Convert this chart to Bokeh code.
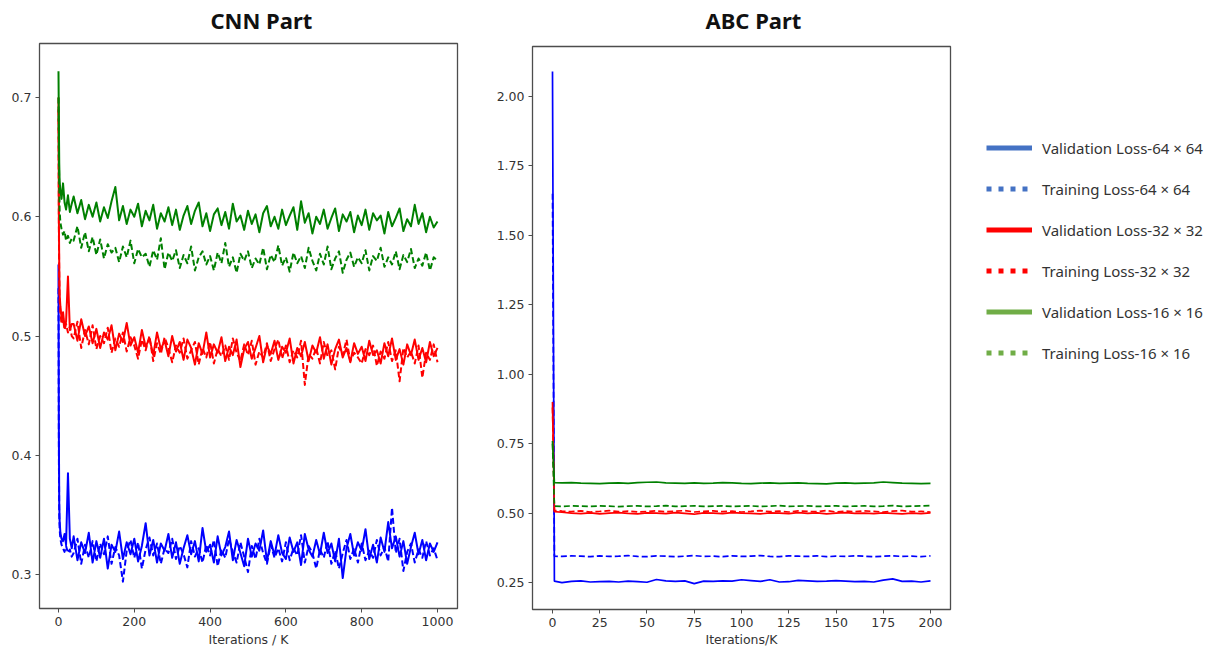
from bokeh.plotting import figure
from bokeh.layouts import row, column
from bokeh.models import Range1d, FixedTicker, NumeralTickFormatter, Legend, LegendItem, Label
from bokeh.embed import file_html
from bokeh.resources import INLINE

# ---------------- data ----------------
cnn_iters = [0, 1, 2, 3, 5, 8, 12, 16, 20, 25, 30, 35] + list(range(40, 1001, 10))

cnn_val16 = [0.722, 0.680, 0.645, 0.630, 0.622, 0.615, 0.628, 0.612, 0.606, 0.618, 0.604, 0.611,
             0.617, 0.603, 0.614, 0.598, 0.610, 0.600,
             0.612, 0.596, 0.608, 0.599, 0.613, 0.625, 0.597, 0.609, 0.594, 0.606,
             0.600, 0.611, 0.592, 0.605, 0.597, 0.610, 0.590, 0.603, 0.596, 0.608,
             0.593, 0.606, 0.589, 0.601, 0.609, 0.594, 0.605, 0.612, 0.592, 0.603,
             0.588, 0.602, 0.607, 0.593, 0.604, 0.590, 0.611, 0.596, 0.601, 0.589,
             0.605, 0.594, 0.602, 0.587, 0.603, 0.609, 0.592, 0.600, 0.590, 0.606,
             0.593, 0.601, 0.608, 0.589, 0.613, 0.595, 0.603, 0.586, 0.600, 0.594,
             0.606, 0.590, 0.599, 0.607, 0.588, 0.602, 0.596, 0.604, 0.587, 0.601,
             0.593, 0.606, 0.589, 0.603, 0.597, 0.601, 0.586, 0.604, 0.592, 0.599,
             0.607, 0.588, 0.598, 0.592, 0.610, 0.594, 0.603, 0.587, 0.600, 0.591,
             0.596]

cnn_train16 = [0.700, 0.655, 0.625, 0.605, 0.595, 0.590, 0.585, 0.588, 0.580, 0.584, 0.578, 0.582,
               0.580, 0.592, 0.574, 0.587, 0.571, 0.583,
               0.568, 0.581, 0.565, 0.577, 0.570, 0.574, 0.562, 0.575, 0.566, 0.580,
               0.561, 0.573, 0.566, 0.569, 0.558, 0.572, 0.564, 0.582, 0.556, 0.570,
               0.563, 0.572, 0.557, 0.568, 0.561, 0.575, 0.555, 0.566, 0.571, 0.560,
               0.567, 0.555, 0.570, 0.561, 0.578, 0.558, 0.566, 0.553, 0.569, 0.563,
               0.571, 0.557, 0.565, 0.560, 0.574, 0.556, 0.568, 0.562, 0.576, 0.559,
               0.566, 0.554, 0.570, 0.561, 0.567, 0.557, 0.574, 0.563, 0.555, 0.569,
               0.560, 0.575, 0.556, 0.565, 0.571, 0.553, 0.564, 0.570, 0.558, 0.566,
               0.561, 0.572, 0.555, 0.567, 0.563, 0.574, 0.558, 0.566, 0.560, 0.571,
               0.556, 0.568, 0.562, 0.573, 0.557, 0.565, 0.559, 0.570, 0.555, 0.566,
               0.563]

cnn_val32 = [0.700, 0.600, 0.560, 0.535, 0.525, 0.515, 0.520, 0.508, 0.512, 0.550, 0.505, 0.510,
             0.510, 0.496, 0.514, 0.500, 0.508, 0.494,
             0.506, 0.490, 0.503, 0.497, 0.509, 0.488, 0.502, 0.495, 0.511, 0.492,
             0.499, 0.486, 0.505, 0.491, 0.498, 0.484, 0.503, 0.489, 0.496, 0.483,
             0.500, 0.487, 0.495, 0.480, 0.497, 0.490, 0.476, 0.494, 0.485, 0.503,
             0.482, 0.493, 0.486, 0.499, 0.479, 0.491, 0.484, 0.497, 0.474, 0.489,
             0.495, 0.481, 0.490, 0.500, 0.478, 0.492, 0.485, 0.496, 0.480, 0.491,
             0.486, 0.498, 0.477, 0.490, 0.483, 0.495, 0.479, 0.492, 0.486, 0.499,
             0.481, 0.493, 0.476, 0.489, 0.497, 0.482, 0.490, 0.478, 0.494, 0.485,
             0.491, 0.479, 0.496, 0.484, 0.488, 0.477, 0.494, 0.483, 0.498, 0.480,
             0.489, 0.476, 0.493, 0.484, 0.497, 0.480, 0.490, 0.478, 0.495, 0.483,
             0.490]

cnn_train32 = [0.690, 0.590, 0.550, 0.530, 0.520, 0.510, 0.515, 0.505, 0.510, 0.503, 0.508, 0.500,
               0.498, 0.512, 0.490, 0.505, 0.493, 0.509,
               0.489, 0.500, 0.494, 0.507, 0.486, 0.498, 0.491, 0.503, 0.487, 0.499,
               0.492, 0.481, 0.497, 0.488, 0.500, 0.479, 0.494, 0.485, 0.499, 0.490,
               0.478, 0.492, 0.486, 0.498, 0.481, 0.488, 0.495, 0.476, 0.490, 0.482,
               0.495, 0.477, 0.489, 0.483, 0.492, 0.480, 0.498, 0.486, 0.479, 0.493,
               0.484, 0.496, 0.476, 0.487, 0.482, 0.494, 0.479, 0.489, 0.497, 0.481,
               0.492, 0.478, 0.488, 0.482, 0.496, 0.459, 0.485, 0.481, 0.490, 0.477,
               0.495, 0.483, 0.488, 0.472, 0.491, 0.484, 0.497, 0.479, 0.486, 0.482,
               0.477, 0.489, 0.484, 0.492, 0.475, 0.487, 0.481, 0.495, 0.479, 0.488,
               0.462, 0.490, 0.482, 0.487, 0.477, 0.492, 0.465, 0.486, 0.480, 0.493,
               0.478]

cnn_val64 = [0.560, 0.420, 0.360, 0.345, 0.335, 0.330, 0.328, 0.334, 0.325, 0.385, 0.330, 0.322,
             0.332, 0.312, 0.327, 0.318, 0.335, 0.310,
             0.328, 0.314, 0.330, 0.305, 0.325, 0.319, 0.336, 0.313, 0.327, 0.317,
             0.330, 0.311, 0.324, 0.343, 0.316, 0.329, 0.310, 0.326, 0.320, 0.334,
             0.314, 0.327, 0.309, 0.322, 0.333, 0.317, 0.328, 0.311, 0.339, 0.319,
             0.325, 0.310, 0.332, 0.316, 0.323, 0.336, 0.312, 0.329, 0.318, 0.307,
             0.330, 0.315, 0.326, 0.320, 0.337, 0.311, 0.328, 0.316, 0.333, 0.318,
             0.313, 0.331, 0.319, 0.327, 0.308, 0.334, 0.321, 0.315, 0.329, 0.317,
             0.335, 0.318, 0.326, 0.311, 0.330, 0.297, 0.322, 0.334, 0.316, 0.327,
             0.320, 0.338, 0.313, 0.325, 0.310, 0.331, 0.319, 0.344, 0.322, 0.332,
             0.315, 0.328, 0.309, 0.323, 0.335, 0.317, 0.329, 0.312, 0.326, 0.319,
             0.327]

cnn_train64 = [0.540, 0.400, 0.350, 0.338, 0.330, 0.325, 0.322, 0.319, 0.324, 0.318, 0.321, 0.315,
               0.318, 0.330, 0.309, 0.325, 0.314, 0.328,
               0.311, 0.326, 0.317, 0.332, 0.309, 0.323, 0.316, 0.294, 0.320, 0.329,
               0.314, 0.327, 0.305, 0.321, 0.331, 0.316, 0.326, 0.309, 0.322, 0.318,
               0.330, 0.313, 0.324, 0.317, 0.306, 0.328, 0.315, 0.322, 0.310, 0.325,
               0.316, 0.329, 0.307, 0.321, 0.314, 0.330, 0.319, 0.310, 0.327, 0.315,
               0.302, 0.324, 0.313, 0.330, 0.318, 0.309, 0.325, 0.314, 0.322, 0.311,
               0.327, 0.312, 0.322, 0.316, 0.333, 0.310, 0.324, 0.318, 0.305, 0.321,
               0.314, 0.328, 0.309, 0.320, 0.305, 0.318, 0.329, 0.313, 0.322, 0.310,
               0.326, 0.312, 0.320, 0.314, 0.329, 0.316, 0.323, 0.311, 0.356, 0.318,
               0.330, 0.303, 0.319, 0.326, 0.310, 0.321, 0.314, 0.328, 0.316, 0.322,
               0.312]

abc_iters = [0, 1] + list(range(5, 201, 5))

abc_val64 = [2.090, 0.255,
             0.250, 0.254, 0.256, 0.252, 0.253, 0.254, 0.252, 0.255, 0.253, 0.251,
             0.261, 0.256, 0.254, 0.256, 0.246, 0.255, 0.254, 0.256, 0.255, 0.260,
             0.257, 0.254, 0.260, 0.252, 0.253, 0.258, 0.256, 0.254, 0.255, 0.257,
             0.255, 0.253, 0.254, 0.252, 0.259, 0.263, 0.254, 0.255, 0.252, 0.256]
abc_train64 = [1.650, 0.345,
               0.344, 0.346, 0.345, 0.343, 0.346, 0.344, 0.345, 0.347, 0.344, 0.343,
               0.346, 0.345, 0.343, 0.345, 0.347, 0.344, 0.345, 0.343, 0.346, 0.344,
               0.345, 0.347, 0.344, 0.343, 0.346, 0.345, 0.344, 0.346, 0.343, 0.345,
               0.344, 0.346, 0.345, 0.343, 0.345, 0.346, 0.344, 0.345, 0.343, 0.346]
abc_val32 = [0.900, 0.505,
             0.503, 0.500, 0.498, 0.501, 0.497, 0.500, 0.502, 0.499, 0.497, 0.501,
             0.500, 0.498, 0.502, 0.499, 0.496, 0.501, 0.500, 0.498, 0.502, 0.500,
             0.499, 0.497, 0.501, 0.500, 0.498, 0.502, 0.499, 0.501, 0.497, 0.500,
             0.502, 0.499, 0.500, 0.498, 0.501, 0.499, 0.497, 0.500, 0.498, 0.501]
abc_train32 = [0.880, 0.510,
               0.507, 0.505, 0.508, 0.504, 0.506, 0.509, 0.505, 0.507, 0.504, 0.506,
               0.508, 0.505, 0.507, 0.509, 0.504, 0.506, 0.508, 0.505, 0.507, 0.504,
               0.506, 0.509, 0.505, 0.507, 0.504, 0.508, 0.506, 0.505, 0.509, 0.504,
               0.507, 0.505, 0.508, 0.506, 0.504, 0.507, 0.509, 0.505, 0.506, 0.504]
abc_val16 = [0.760, 0.610,
             0.609, 0.610, 0.608, 0.607, 0.606, 0.608, 0.609, 0.607, 0.610, 0.611,
             0.612, 0.609, 0.608, 0.607, 0.609, 0.607, 0.608, 0.610, 0.609, 0.607,
             0.606, 0.608, 0.609, 0.607, 0.608, 0.609, 0.607, 0.606, 0.605, 0.608,
             0.609, 0.607, 0.608, 0.609, 0.612, 0.610, 0.608, 0.607, 0.606, 0.607]
abc_train16 = [0.750, 0.525,
               0.524, 0.526, 0.525, 0.524, 0.526, 0.525, 0.523, 0.525, 0.526, 0.524,
               0.525, 0.527, 0.524, 0.525, 0.526, 0.524, 0.525, 0.526, 0.524, 0.525,
               0.526, 0.524, 0.525, 0.527, 0.524, 0.525, 0.526, 0.524, 0.525, 0.526,
               0.524, 0.525, 0.526, 0.524, 0.525, 0.527, 0.524, 0.525, 0.526, 0.527]

cnn_xticks = [0, 200, 400, 600, 800, 1000]
cnn_yticks = [0.3, 0.4, 0.5, 0.6, 0.7]
abc_xticks = [0, 25, 50, 75, 100, 125, 150, 175, 200]
abc_yticks = [0.25, 0.50, 0.75, 1.00, 1.25, 1.50, 1.75, 2.00]

titles = ["CNN Part", "ABC Part"]
xlabels = ["Iterations / K", "Iterations/K"]
legend_labels = ["Validation Loss-64 × 64", "Training Loss-64 × 64",
                 "Validation Loss-32 × 32", "Training Loss-32 × 32",
                 "Validation Loss-16 × 16", "Training Loss-16 × 16"]

# ---------------- styling ----------------
BLUE, RED, GREEN = "#0000ff", "#ff0000", "#008000"
LEG_COLORS = ["#4472c4", "#4472c4", "#ff0000", "#ff0000", "#70ad47", "#70ad47"]
LEG_DASH = ["solid", "5 7", "solid", "5 7", "solid", "5 7"]
FONT = "Noto Sans"
TICK_FONT = "DejaVu Sans"
FRAME = "#4d4d4d"
HDR = 40
H = 649 - HDR


def make_header(width, title, tx):
    h = figure(width=width, height=HDR, output_backend="svg", toolbar_location=None, title=None,
               x_range=Range1d(0, 1), y_range=Range1d(0, 1),
               x_axis_location=None, y_axis_location=None, min_border=0)
    h.grid.visible = False
    h.outline_line_color = None
    h.add_layout(Label(x=tx, y=20.5, x_units="screen", y_units="screen", text=title,
                       text_font=FONT, text_font_size="22px", text_font_style="bold",
                       text_color="#111111", text_align="left", text_baseline="alphabetic"))
    return h


def make_fig(width, xlabel, xr, yr, bl, br, bt, bb, xticks, yticks, yfmt, lab_sd, ax_sd):
    p = figure(width=width, height=H, output_backend="svg", toolbar_location=None, title=None,
               x_range=Range1d(*xr), y_range=Range1d(*yr),
               min_border_left=bl, min_border_right=br, min_border_top=bt, min_border_bottom=bb)
    p.grid.visible = False
    p.outline_line_color = FRAME
    p.outline_line_width = 1.3
    for ax in (p.xaxis[0], p.yaxis[0]):
        ax.axis_line_color = None
        ax.major_tick_line_color = FRAME
        ax.major_tick_line_width = 1
        ax.major_tick_out = 4
        ax.major_tick_in = 0
        ax.minor_tick_line_color = None
        ax.major_label_text_font = TICK_FONT
        ax.major_label_text_font_size = "12.5px"
        ax.major_label_text_color = "#333333"
    p.xaxis.major_label_standoff = lab_sd
    p.yaxis.major_label_standoff = 4
    p.xaxis.ticker = FixedTicker(ticks=xticks)
    p.yaxis.ticker = FixedTicker(ticks=yticks)
    p.xaxis.formatter = NumeralTickFormatter(format="0")
    p.yaxis.formatter = NumeralTickFormatter(format=yfmt)
    p.xaxis.axis_label = xlabel
    p.xaxis.axis_label_text_font = TICK_FONT
    p.xaxis.axis_label_text_font_size = "12.5px"
    p.xaxis.axis_label_text_font_style = "normal"
    p.xaxis.axis_label_text_color = "#333333"
    p.xaxis.axis_label_standoff = ax_sd
    return p


h1 = make_header(480, titles[0], 171)
p1 = make_fig(480, xlabels[0], (-50.1, 1052.8), (0.2715, 0.7453), 39, 23, 43 - HDR, 41,
              cnn_xticks, cnn_yticks, "0.0", 4, 3)
lw = 2.0
p1.line(cnn_iters, cnn_val64, color=BLUE, line_width=lw, line_join="round")
p1.line(cnn_iters, cnn_train64, color=BLUE, line_width=lw, line_dash="6 3", line_join="round")
p1.line(cnn_iters, cnn_val32, color=RED, line_width=lw, line_join="round")
p1.line(cnn_iters, cnn_train32, color=RED, line_width=lw, line_dash="6 3", line_join="round")
p1.line(cnn_iters, cnn_val16, color=GREEN, line_width=lw, line_join="round")
p1.line(cnn_iters, cnn_train16, color=GREEN, line_width=lw, line_dash="6 3", line_join="round")

h2 = make_header(480, titles[1], 173)
p2 = make_fig(480, xlabels[1], (-10.58, 210.58), (0.153, 2.1797), 52, 10, 46 - HDR, 39,
              abc_xticks, abc_yticks, "0.00", 4, 2)
lw2 = 1.7
p2.line(abc_iters, abc_val64, color=BLUE, line_width=lw2)
p2.line(abc_iters, abc_train64, color=BLUE, line_width=lw2, line_dash="6 3")
p2.line(abc_iters, abc_val32, color=RED, line_width=lw2)
p2.line(abc_iters, abc_train32, color=RED, line_width=lw2, line_dash="6 3")
p2.line(abc_iters, abc_val16, color=GREEN, line_width=lw2)
p2.line(abc_iters, abc_train16, color=GREEN, line_width=lw2, line_dash="6 3")

pl = figure(width=251, height=649, output_backend="svg", toolbar_location=None, title=None,
            x_range=Range1d(0, 1), y_range=Range1d(0, 1),
            x_axis_location=None, y_axis_location=None, min_border=0)
pl.grid.visible = False
pl.outline_line_color = None
items = []
nan = float("nan")
for lab, col, dash in zip(legend_labels, LEG_COLORS, LEG_DASH):
    r = pl.line(x=[nan, nan], y=[nan, nan], color=col, line_width=5, line_dash=dash, line_cap="butt")
    items.append(LegendItem(label=lab, renderers=[r]))
leg = Legend(items=items, location=(26, 286), glyph_width=46, glyph_height=21, label_height=21,
             spacing=20, padding=0, margin=0, label_standoff=10, border_line_color=None,
             background_fill_alpha=0, label_text_font=FONT, label_text_font_size="15px",
             label_text_color="#333333")
pl.add_layout(leg)

layout = row(column(h1, p1), column(h2, p2), pl)
open("out.html", "w").write(file_html(layout, INLINE))
